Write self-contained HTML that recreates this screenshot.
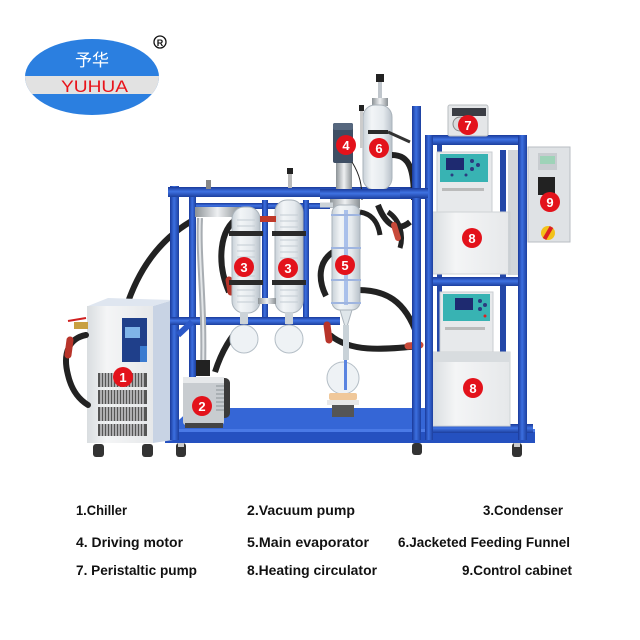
<!DOCTYPE html>
<html><head><meta charset="utf-8"><style>
html,body{margin:0;padding:0;background:#fff;}
svg{display:block;}
text{font-family:"Liberation Sans","Noto Sans CJK SC",sans-serif;}
</style></head><body>
<svg width="640" height="640" viewBox="0 0 640 640" xmlns="http://www.w3.org/2000/svg">
<defs>
<linearGradient id="vb" x1="0" y1="0" x2="1" y2="0"><stop offset="0" stop-color="#1a3a9a"/><stop offset=".45" stop-color="#3c6fe0"/><stop offset="1" stop-color="#1c3f9e"/></linearGradient>
<linearGradient id="hb" x1="0" y1="0" x2="0" y2="1"><stop offset="0" stop-color="#1a3a9a"/><stop offset=".45" stop-color="#3f72e2"/><stop offset="1" stop-color="#1c3f9e"/></linearGradient>
<linearGradient id="gl" x1="0" y1="0" x2="1" y2="0"><stop offset="0" stop-color="#c9d1d8"/><stop offset=".3" stop-color="#f2f5f7"/><stop offset=".7" stop-color="#e4e9ed"/><stop offset="1" stop-color="#b8c1c9"/></linearGradient>
<linearGradient id="ss" x1="0" y1="0" x2="1" y2="0"><stop offset="0" stop-color="#8c9296"/><stop offset=".5" stop-color="#eef0f2"/><stop offset="1" stop-color="#8a9094"/></linearGradient>
<linearGradient id="box" x1="0" y1="0" x2="1" y2="0"><stop offset="0" stop-color="#d9dde0"/><stop offset=".3" stop-color="#f4f5f6"/><stop offset="1" stop-color="#e6e8ea"/></linearGradient>
</defs>

<!-- LOGO -->
<ellipse cx="92" cy="77" rx="67" ry="38" fill="#2b7fe0"/>
<clipPath id="lc"><ellipse cx="92" cy="77" rx="67" ry="38"/></clipPath>
<rect x="20" y="76" width="150" height="18" fill="#e2e2e2" clip-path="url(#lc)"/>
<text x="92" y="66" font-size="17" fill="#fff" text-anchor="middle" font-family="'Noto Serif CJK SC','Noto Sans CJK SC',serif">予华</text>
<text x="94.5" y="92" font-size="17" fill="#e8141b" text-anchor="middle" textLength="67" lengthAdjust="spacingAndGlyphs">YUHUA</text>
<circle cx="160" cy="42" r="6" fill="none" stroke="#111" stroke-width="1.3"/>
<text x="160" y="46" font-size="9" font-weight="bold" fill="#111" text-anchor="middle">R</text>

<!-- BASE -->
<polygon points="192,408 428,408 440,430 168,430" fill="#3566d6"/>
<rect x="165" y="429" width="370" height="14" fill="#2551c0"/>
<rect x="165" y="429" width="370" height="3" fill="#4a7ae6"/>
<!-- wheels -->
<g fill="#333">
<rect x="176" y="443" width="10" height="14" rx="3"/><rect x="412" y="443" width="10" height="12" rx="3"/><rect x="512" y="443" width="10" height="14" rx="3"/>
</g>
<g fill="#ccc"><rect x="178" y="443" width="6" height="4"/><rect x="514" y="443" width="6" height="4"/></g>

<!-- rear structure -->
<rect x="190" y="203" width="140" height="6" fill="url(#hb)"/>
<rect x="262" y="200" width="6" height="125" fill="url(#vb)"/>
<rect x="303" y="200" width="6" height="125" fill="url(#vb)"/>
<rect x="500" y="150" width="6" height="280" fill="#2347a8"/>
<rect x="437" y="140" width="5" height="290" fill="#2347a8"/>

<!-- CHILLER 1 -->
<path d="M128,302 C140,268 160,240 190,222" stroke="#222" stroke-width="6" fill="none" stroke-linecap="round"/>
<polygon points="153,306 173,300 173,440 153,443" fill="#c8d3e4"/>
<polygon points="88,306 153,306 173,300 108,298" fill="#dfe6f0"/>
<rect x="87" y="306" width="66" height="137" fill="url(#box)"/>
<rect x="122" y="318" width="25" height="44" fill="#1f3f8a"/>
<rect x="125" y="327" width="15" height="11" fill="#7fb4e8"/>
<rect x="140" y="346" width="7" height="16" fill="#3a7bd0"/>
<g fill="#555">
<rect x="98" y="373" width="49" height="14" /><rect x="98" y="390" width="49" height="14"/><rect x="98" y="407" width="49" height="14"/><rect x="98" y="424" width="49" height="12"/>
</g>
<g stroke="#e8eaec" stroke-width="1.2">
<path d="M101,373v63M104,373v63M107,373v63M110,373v63M113,373v63M116,373v63M119,373v63M122,373v63M125,373v63M128,373v63M131,373v63M134,373v63M137,373v63M140,373v63M143,373v63"/>
</g>
<path d="M86,335 C70,338 62,352 68,375 C72,392 80,400 88,405" stroke="#222" stroke-width="6" fill="none" stroke-linecap="round"/>
<path d="M70,340 L68,355" stroke="#b8342a" stroke-width="7" stroke-linecap="round"/>
<rect x="74" y="322" width="14" height="7" fill="#c8a040"/>
<path d="M68,321 L86,318" stroke="#d02020" stroke-width="2"/>
<g fill="#333"><rect x="93" y="444" width="11" height="13" rx="3"/><rect x="142" y="444" width="11" height="13" rx="3"/></g>

<!-- LEFT FRAME -->
<rect x="170" y="186" width="9" height="254" fill="url(#vb)"/>
<rect x="189" y="195" width="7" height="230" fill="url(#vb)"/>
<rect x="168" y="187" width="252" height="10" fill="url(#hb)"/>
<rect x="170" y="317" width="170" height="8" fill="url(#hb)"/>
<path d="M178,335 L192,322" stroke="#2b58c8" stroke-width="6"/>
<rect x="206" y="180" width="5" height="9" fill="#888"/><rect x="288" y="172" width="4" height="16" fill="#bbb"/><rect x="287" y="168" width="6" height="6" fill="#222"/>

<!-- stainless tube to vacuum pump -->
<path d="M200,218 C198,260 205,300 203,372" stroke="#a8adb2" stroke-width="6" fill="none"/>
<path d="M200,218 C198,260 205,300 203,372" stroke="#e3e6e8" stroke-width="2" fill="none"/>
<rect x="195" y="207" width="45" height="10" fill="url(#ss)"/>

<!-- VACUUM PUMP 2 -->
<path d="M215,372 C222,350 232,335 240,328" stroke="#222" stroke-width="6" fill="none"/>
<rect x="196" y="360" width="14" height="16" fill="#222"/>
<rect x="216" y="378" width="14" height="40" rx="5" fill="#3a3a3a"/>
<rect x="183" y="377" width="41" height="48" rx="3" fill="#c8ccd0"/>
<rect x="183" y="377" width="41" height="6" fill="#e6e8ea"/>
<g stroke="#8d9398" stroke-width="1"><path d="M216,386h8M216,390h8M216,394h8M216,398h8M216,402h8M216,406h8M216,410h8"/></g>
<rect x="185" y="423" width="38" height="5" fill="#444"/>

<!-- CONDENSERS 3 -->
<path d="M238,218 C220,228 216,262 229,292" stroke="#222" stroke-width="6" fill="none"/>
<path d="M229,280 L231,292" stroke="#b8342a" stroke-width="7" stroke-linecap="round"/>
<rect x="232" y="207" width="28" height="106" rx="12" fill="url(#gl)" stroke="#aab3bb" stroke-width="1"/>
<rect x="275" y="200" width="28" height="113" rx="12" fill="url(#gl)" stroke="#aab3bb" stroke-width="1"/>
<g stroke="#c3ccd3" stroke-width="1">
<path d="M237,220h18M237,226h18M237,232h18M237,245h18M237,251h18M237,257h18M237,263h18M237,270h18M237,276h18M237,290h18M237,296h18M237,302h18"/>
<path d="M280,215h18M280,221h18M280,227h18M280,240h18M280,246h18M280,252h18M280,258h18M280,265h18M280,271h18M280,284h18M280,290h18M280,296h18M280,302h18"/>
</g>
<g fill="#2a2a2a"><rect x="229" y="231" width="34" height="5"/><rect x="229" y="280" width="34" height="5"/><rect x="272" y="231" width="34" height="5"/><rect x="272" y="280" width="34" height="5"/></g>
<rect x="260" y="216" width="16" height="6" fill="#c03a2a"/>
<rect x="258" y="298" width="18" height="6" fill="url(#ss)"/>
<rect x="240" y="312" width="8" height="12" fill="#ccd3d8"/><rect x="285" y="312" width="8" height="12" fill="#ccd3d8"/>
<circle cx="244" cy="339" r="14" fill="#eef2f5" stroke="#b4bec6"/>
<circle cx="289" cy="339" r="14" fill="#eef2f5" stroke="#b4bec6"/>

<!-- MAIN EVAPORATOR 5 -->
<path d="M333,252 C318,262 318,280 326,296" stroke="#222" stroke-width="6" fill="none"/>
<path d="M358,290 C385,290 405,300 417,335" stroke="#222" stroke-width="6" fill="none"/>
<path d="M330,335 C350,352 380,350 420,346" stroke="#222" stroke-width="6" fill="none"/>
<path d="M408,346 L420,345" stroke="#c84a3a" stroke-width="7" stroke-linecap="round"/>
<path d="M327,325 L329,340" stroke="#b8342a" stroke-width="7" stroke-linecap="round"/>
<rect x="336" y="162" width="16" height="30" fill="url(#ss)"/>
<rect x="330" y="198" width="30" height="10" fill="url(#ss)"/>
<rect x="332" y="205" width="28" height="105" rx="8" fill="url(#gl)" stroke="#aab3bb"/>
<rect x="344" y="210" width="4" height="95" fill="#7fa2e6" opacity=".6"/>
<g stroke="#9fb5e0" stroke-width="2"><path d="M331,215h30M331,248h30M331,280h30M331,303h30"/></g>
<path d="M340,310 L346,330 L352,310Z" fill="#dfe6ea" stroke="#aab3bb"/>
<rect x="343" y="325" width="6" height="35" fill="#c9d2d8"/>
<circle cx="343" cy="378" r="16" fill="#eef2f5" stroke="#b4bec6"/>
<rect x="344" y="360" width="3" height="30" fill="#5a84e0"/>
<rect x="329" y="393" width="28" height="7" rx="2" fill="#f0c89a"/>
<rect x="327" y="400" width="32" height="5" fill="#e8e8e8"/>
<rect x="332" y="405" width="22" height="12" fill="#555"/>
<path d="M320,205 L333,205" stroke="#ccd3d8" stroke-width="5"/>
<path d="M360,212 C372,214 378,222 380,235" stroke="#222" stroke-width="5" fill="none"/>

<!-- MOTOR 4 -->
<rect x="333" y="123" width="20" height="40" rx="2" fill="#3e4e64"/>
<rect x="333" y="123" width="20" height="7" rx="2" fill="#56677e"/>
<path d="M352,162 C360,175 362,185 362,200" stroke="#222" stroke-width="1" fill="none"/>

<!-- FUNNEL 6 -->
<rect x="378" y="80" width="4" height="25" fill="#c0c6cc"/>
<rect x="376" y="74" width="8" height="8" fill="#222"/>
<rect x="372" y="98" width="16" height="8" fill="url(#ss)"/>
<rect x="363" y="105" width="29" height="85" rx="12" fill="url(#gl)" stroke="#aab3bb"/>
<rect x="360" y="108" width="3" height="40" fill="#ccc"/><rect x="359" y="105" width="5" height="6" fill="#222"/>
<rect x="368" y="130" width="20" height="4" fill="#2a2a2a"/>
<path d="M388,132 L410,142" stroke="#333" stroke-width="3"/>
<path d="M392,155 C410,155 414,170 414,200" stroke="#222" stroke-width="6" fill="none"/>
<path d="M378,205 C386,226 398,232 410,222" stroke="#222" stroke-width="6" fill="none"/>
<path d="M388,212 C400,220 404,235 400,248" stroke="#222" stroke-width="5" fill="none"/>
<path d="M394,225 L398,238" stroke="#c84a3a" stroke-width="6" stroke-linecap="round"/>

<!-- MAIN TOP BAR right part & right post -->
<rect x="320" y="189" width="110" height="10" fill="url(#hb)"/>
<rect x="412" y="106" width="9" height="334" fill="url(#vb)"/>

<!-- CABINET FRAME -->
<rect x="425" y="135" width="102" height="10" fill="url(#hb)"/>
<rect x="425" y="277" width="102" height="9" fill="url(#hb)"/>
<rect x="425" y="424" width="108" height="9" fill="url(#hb)"/>

<!-- upper circulator -->
<rect x="437" y="152" width="55" height="62" fill="#e7e9eb" stroke="#c9cdd1"/>
<rect x="440" y="154" width="48" height="28" fill="#38b3b3"/>
<rect x="446" y="158" width="18" height="12" fill="#1e2a70"/>
<g fill="#2b3b80"><circle cx="472" cy="161" r="2"/><circle cx="478" cy="165" r="2"/><circle cx="472" cy="169" r="2"/><circle cx="466" cy="175" r="1.5"/><circle cx="452" cy="175" r="1.5"/></g>
<rect x="442" y="188" width="42" height="3" fill="#bbb"/>
<rect x="432" y="212" width="78" height="62" fill="url(#box)" stroke="#cfd3d6"/>
<rect x="508" y="150" width="16" height="125" fill="#c7ccd1" opacity=".8"/>
<!-- lower circulator -->
<rect x="440" y="292" width="53" height="62" fill="#e7e9eb" stroke="#c9cdd1"/>
<rect x="443" y="294" width="47" height="27" fill="#38b3b3"/>
<rect x="455" y="298" width="18" height="12" fill="#1e2a70"/>
<g fill="#2b3b80"><circle cx="480" cy="301" r="2"/><circle cx="485" cy="305" r="2"/><circle cx="480" cy="309" r="2"/></g>
<circle cx="485" cy="316" r="1.5" fill="#d22"/>
<rect x="445" y="327" width="40" height="3" fill="#bbb"/>
<rect x="432" y="352" width="78" height="74" fill="url(#box)" stroke="#cfd3d6"/>
<rect x="432" y="352" width="78" height="10" fill="#d8dcdf"/>
<!-- cabinet posts front -->
<rect x="425" y="135" width="8" height="305" fill="url(#vb)"/>
<rect x="518" y="135" width="9" height="305" fill="url(#vb)"/>
<rect x="400" y="188" width="28" height="10" fill="url(#hb)"/>

<!-- peristaltic pump 7 -->
<rect x="448" y="105" width="40" height="31" rx="2" fill="#e4e6e8" stroke="#b9bdc1"/>
<rect x="452" y="108" width="34" height="8" fill="#3a3d44"/>
<circle cx="460" cy="124" r="7" fill="#d8dadc" stroke="#888"/>

<!-- control cabinet 9 -->
<rect x="528" y="147" width="42" height="95" fill="#dfe2e5" stroke="#b9bec3"/>
<rect x="538" y="153" width="19" height="17" fill="#c8ccd0"/>
<rect x="540" y="156" width="15" height="8" fill="#9ed3b8"/>
<rect x="538" y="177" width="17" height="18" fill="#222"/>
<circle cx="548" cy="233" r="7" fill="#f2c21a"/>
<rect x="546" y="226" width="4" height="14" fill="#d22" transform="rotate(30 548 233)"/>

<!-- LABELS -->
<g font-size="13" font-weight="bold" fill="#fff" text-anchor="middle">
<circle cx="123" cy="377" r="10" fill="#e3121b"/><text x="123" y="382">1</text>
<circle cx="202" cy="406" r="10" fill="#e3121b"/><text x="202" y="411">2</text>
<circle cx="244" cy="267" r="10" fill="#e3121b"/><text x="244" y="272">3</text>
<circle cx="288" cy="268" r="10" fill="#e3121b"/><text x="288" y="273">3</text>
<circle cx="346" cy="145" r="10" fill="#e3121b"/><text x="346" y="150">4</text>
<circle cx="345" cy="265" r="10" fill="#e3121b"/><text x="345" y="270">5</text>
<circle cx="379" cy="148" r="10" fill="#e3121b"/><text x="379" y="153">6</text>
<circle cx="468" cy="125" r="10" fill="#e3121b"/><text x="468" y="130">7</text>
<circle cx="472" cy="238" r="10" fill="#e3121b"/><text x="472" y="243">8</text>
<circle cx="473" cy="388" r="10" fill="#e3121b"/><text x="473" y="393">8</text>
<circle cx="550" cy="202" r="10" fill="#e3121b"/><text x="550" y="207">9</text>
</g>

<!-- LEGEND -->
<g font-size="13.5" font-weight="bold" fill="#111" lengthAdjust="spacingAndGlyphs">
<text x="76" y="515" textLength="51" lengthAdjust="spacingAndGlyphs">1.Chiller</text>
<text x="247" y="515" textLength="108" lengthAdjust="spacingAndGlyphs">2.Vacuum pump</text>
<text x="483" y="515" textLength="80" lengthAdjust="spacingAndGlyphs">3.Condenser</text>
<text x="76" y="547" textLength="107" lengthAdjust="spacingAndGlyphs">4. Driving motor</text>
<text x="247" y="547" textLength="122" lengthAdjust="spacingAndGlyphs">5.Main evaporator</text>
<text x="398" y="547" textLength="172" lengthAdjust="spacingAndGlyphs">6.Jacketed Feeding Funnel</text>
<text x="76" y="575" textLength="121" lengthAdjust="spacingAndGlyphs">7. Peristaltic pump</text>
<text x="247" y="575" textLength="130" lengthAdjust="spacingAndGlyphs">8.Heating circulator</text>
<text x="462" y="575" textLength="110" lengthAdjust="spacingAndGlyphs">9.Control cabinet</text>
</g>
</svg>
</body></html>
